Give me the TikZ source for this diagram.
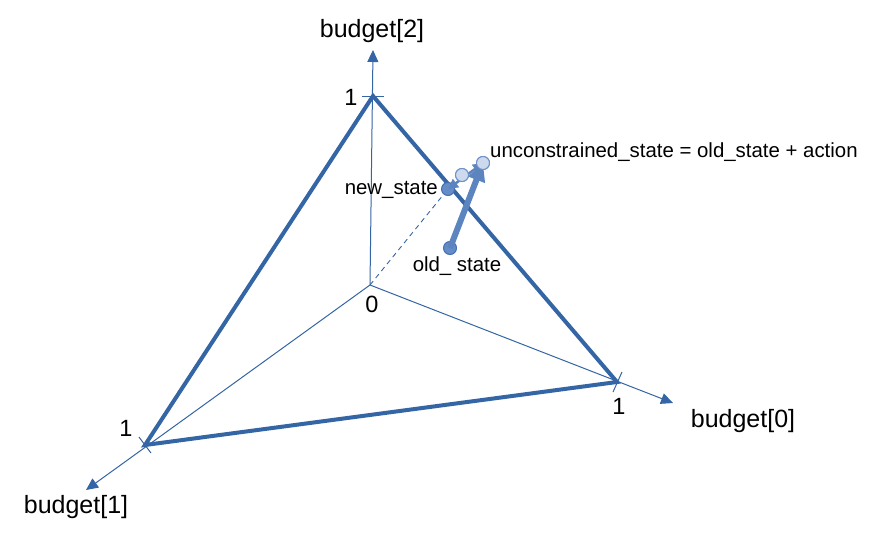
\documentclass[tikz,border=0pt]{standalone}
\usepackage{fontspec}
\setmainfont{Liberation Sans}
\usetikzlibrary{arrows.meta}
\definecolor{axisblue}{RGB}{52,101,164}
\definecolor{arrowblue}{RGB}{92,132,190}
\definecolor{dotfill}{RGB}{100,140,200}
\definecolor{dotline}{RGB}{70,110,175}
\definecolor{lightfill}{RGB}{205,218,238}
\definecolor{lightline}{RGB}{110,145,200}
\tikzset{
  axis/.style={draw=axisblue, line width=1pt, -{Triangle[length=12pt,width=11pt]}},
  tick/.style={draw=axisblue, line width=1pt},
  edge/.style={draw=axisblue, line width=4pt, line join=miter},
  biglabel/.style={font=\fontsize{25}{30}\selectfont, inner sep=0pt},
  numlabel/.style={font=\fontsize{23.5}{28}\selectfont, inner sep=0pt},
  smalllabel/.style={font=\fontsize{20.4}{24}\selectfont, inner sep=0pt},
  dot/.style={circle, draw=dotline, fill=dotfill, line width=1pt, minimum size=13pt, inner sep=0pt},
  lightdot/.style={circle, draw=lightline, fill=lightfill, line width=1pt, minimum size=13pt, inner sep=0pt},
}
\begin{document}
\begin{tikzpicture}[x=1pt,y=-1pt]
\useasboundingbox (0,0) rectangle (893,543);
% axes
\coordinate (O) at (370,285);
\coordinate (E2) at (373,50);
\coordinate (E0) at (673,403);
\coordinate (E1) at (86,490);
\coordinate (V2) at (373,96);
\coordinate (V0) at (617,382);
\coordinate (V1) at (145,445);
\draw[axis] (O) -- (E2);
\draw[axis] (O) -- (E0);
\draw[axis] (O) -- (E1);
% ticks
\coordinate (T2a) at (362,96);
\coordinate (T2b) at (384,96);
\coordinate (T0a) at (613,392);
\coordinate (T0b) at (622,372);
\coordinate (T1a) at (151,453);
\coordinate (T1b) at (139,437);
\draw[tick] (T2a) -- (T2b);
\draw[tick] (T0a) -- (T0b);
\draw[tick] (T1a) -- (T1b);
% triangle
\draw[edge] (V2) -- (V0) -- (V1) -- cycle;
% states
\node[dot] (new) at (448,189) {};
\node[dot] (old) at (450,248) {};
\node[lightdot] (mid) at (462,175) {};
\node[lightdot] (unc) at (483,163) {};
\draw[axisblue, line width=0.9pt, dashed, dash pattern=on 5pt off 4pt] (O) -- (new);
\draw[arrowblue, line width=6pt, -{Triangle[length=18pt,width=17pt]}] (old.center) -- (unc.center);
\draw[arrowblue, line width=2.5pt, {Triangle[length=10pt,width=10pt]}-{Triangle[length=10pt,width=10pt]}] (new.center) -- (unc.center);
\node[lightdot] at (mid) {};
\node[lightdot] at (unc) {};
% labels
\node[biglabel] (l2) at (372,31) {budget[2]};
\node[biglabel] (l0) at (743,421) {budget[0]};
\node[biglabel] (l1) at (76,507) {budget[1]};
\node[numlabel] (n2) at (351,97) {1};
\node[numlabel] (n0) at (619,406) {1};
\node[numlabel] (n1) at (126,428) {1};
\node[numlabel] (n00) at (372,304) {0};
\node[smalllabel, anchor=east] (lnew) at (438,190) {new\_state};
\node[smalllabel] (lold) at (457,266) {old\_ state};
\node[smalllabel, anchor=west] (lunc) at (490,152) {unconstrained\_state = old\_state + action};
\end{tikzpicture}
\end{document}
